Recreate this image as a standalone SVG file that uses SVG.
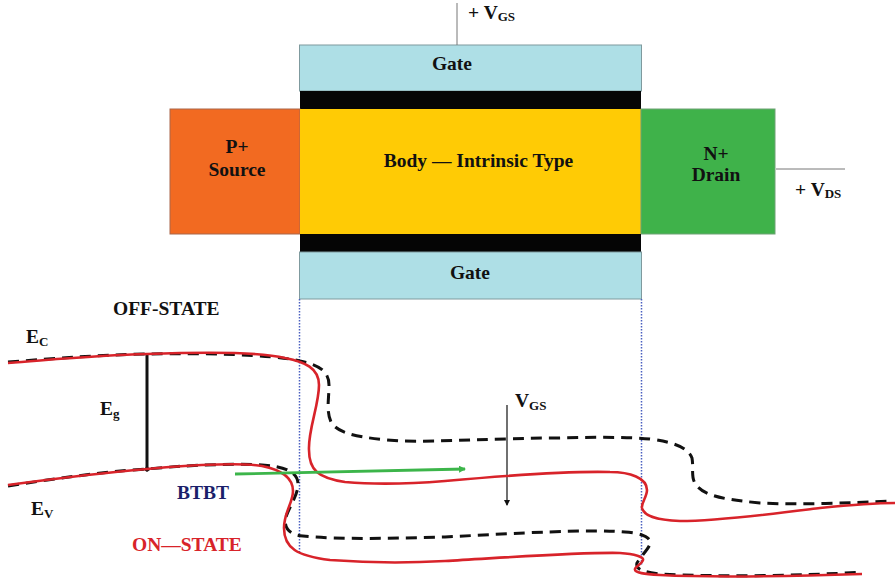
<svg xmlns="http://www.w3.org/2000/svg" width="895" height="581" viewBox="0 0 895 581">
<style>
text{font-family:"Liberation Serif","Times New Roman",serif;font-weight:bold;font-size:19.5px;fill:#111}
.m{text-anchor:middle}
.s{font-size:13px}
.e{stroke:#7f9a9e;stroke-width:1}
.red{fill:none;stroke:#d8232a;stroke-width:2.6}
.dash{fill:none;stroke:#111;stroke-width:3;stroke-dasharray:11 7}
.dot{stroke:#4a5fc0;stroke-width:1.5;stroke-dasharray:1.5 1.5;fill:none}
</style>
<defs>
<marker id="gh" markerWidth="8" markerHeight="8" refX="6" refY="3.5" orient="auto" markerUnits="userSpaceOnUse"><path d="M0 0L7 3.5L0 7z" fill="#3cb54a"/></marker>
<marker id="bh" markerWidth="7" markerHeight="7" refX="5" refY="3" orient="auto" markerUnits="userSpaceOnUse"><path d="M0 0L6 3L0 6z" fill="#111"/></marker>
</defs>
<rect width="895" height="581" fill="#fff"/>
<g id="top-gate"><rect class="e" x="299.500" y="45" width="342" height="46" fill="#aedfe6"/><text class="m" x="452" y="70">Gate</text></g>
<g id="top-oxide"><rect x="300" y="91" width="341" height="18" fill="#050505"/></g>
<g id="source"><rect x="170" y="109" width="130" height="125" fill="#f26a21" stroke="#a9674a"/><text class="m" x="237" y="153">P+</text><text class="m" x="237" y="176">Source</text></g>
<g id="body"><rect x="300" y="109" width="341" height="125" fill="#ffcb05"/><text class="m" x="478.500" y="167">Body — Intrinsic Type</text></g>
<g id="drain"><rect x="641" y="109" width="134" height="125" fill="#3fb24a" stroke="#6ea274"/><text class="m" x="716" y="160">N+</text><text class="m" x="716" y="181">Drain</text></g>
<g id="bottom-oxide"><rect x="300" y="234" width="341" height="18" fill="#050505"/></g>
<g id="bottom-gate"><rect class="e" x="299.500" y="252" width="342" height="47" fill="#aedfe6"/><text class="m" x="470" y="279">Gate</text></g>
<g id="labels">
<text x="468" y="19">+ V<tspan class="s" dy="2">GS</tspan></text>
<text x="795" y="196">+ V<tspan class="s" dy="2">DS</tspan></text>
<text x="113" y="315">OFF-STATE</text>
<text x="26" y="343">E<tspan class="s" dy="3">C</tspan></text>
<text x="100" y="415">E<tspan class="s" dy="3">g</tspan></text>
<text x="31" y="515">E<tspan class="s" dy="3">V</tspan></text>
<text x="515" y="407">V<tspan class="s" dy="3">GS</tspan></text>
<text x="177" y="499" style="fill:#1b1f6b">BTBT</text>
<text x="132" y="551" style="fill:#d8232a">ON—STATE</text>
</g>
<g id="connectors">
<path d="M457 3V45M776 169H845" fill="none" stroke="#777" stroke-width="1"/>
<path class="dot" d="M299.500 299V553M641.500 299V566"/>
<path d="M147 355V469" stroke="#111" stroke-width="3" fill="none"/>
<path d="M147 465l-3 5 3 2 3-2z" fill="#111"/>
<path d="M507 405V505" stroke="#111" stroke-width="1.200" fill="none" marker-end="url(#bh)"/>
<path class="dash" d="M8 362C60 358 100 355 147 354C200 353 270 354 300 361C320 365 329 372 329 385C329 400 326 410 331 422C338 434 360 438 400 441C445 442 500 438 560 438C600 437 630 437 650 439C672 442 688 447 692 458C694 470 690 478 697 486C706 497 730 500 760 503C800 505 850 503 890 501"/>
<path class="dash" d="M8 486C60 478 100 472 147 469C200 464 250 463 272 466C285 468 298 472 298 484C298 495 290 505 286 517C283 528 290 535 303 536C340 540 400 538 445 537C520 533 590 529 625 532C640 533 652 537 650 544C648 550 640 557 637 563C635 570 645 572 660 574C720 577 800 576 862 572"/>
<path class="red" d="M8 363C60 359 100 355 147 354C200 352 260 352 285 358C305 362 319 368 319 385C319 405 308 430 309 450C309 470 318 478 345 482C380 485 420 483 445 481C500 476 570 471 610 472C630 472 647 478 647 490C647 497 641 503 642 508C644 516 655 520 680 521C720 521 780 513 820 508C850 505 870 503 895 503"/>
<path class="red" d="M8 485C60 478 100 473 147 469C200 464 245 463 262 466C282 470 293 478 293 491C293 503 284 512 284 528C284 548 297 556 330 560C370 563 410 563 445 561C500 558 580 552 620 553C635 554 644 557 643 560C642 564 636 566 635 569C634 573 645 574 660 575C720 578 800 576 862 574"/>
<path d="M235 474L465 469" stroke="#3cb54a" stroke-width="2.800" fill="none" marker-end="url(#gh)"/>
</g>
</svg>
